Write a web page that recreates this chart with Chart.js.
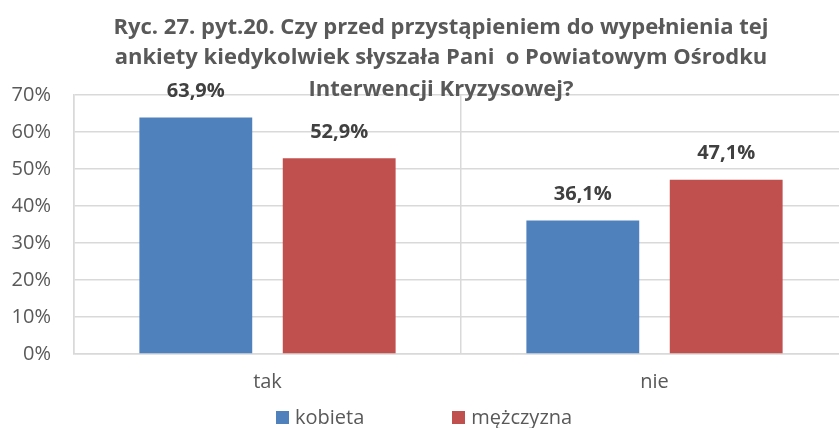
<!DOCTYPE html>
<html>
<head>
  <meta charset="utf-8">
  <title>Ryc. 27 - Powiatowy Ośrodek Interwencji Kryzysowej</title>
  <script src="https://cdn.jsdelivr.net/npm/chart.js"></script>
  <style>
    body {
      margin: 0;
      overflow: hidden;
      background: #fff;
      font-family: "Open Sans", sans-serif;
    }
    #wrap {
      position: relative;
      width: 839px;
      height: 428px;
      overflow: hidden;
    }
    #legend {
      position: absolute;
      left: 276px;
      top: 405px;
      display: flex;
      gap: 88px;
      font-size: 20px;
      line-height: 24px;
      color: #595959;
    }
    .item {
      display: flex;
      align-items: center;
    }
    .box {
      width: 13px;
      height: 13px;
      margin-right: 6px;
    }
  </style>
</head>
<body>
  <div id="wrap">
    <canvas id="chart" width="848" height="428"></canvas>
    <div id="legend"></div>
  </div>

  <script>
    const titleLines = [
      'Ryc. 27. pyt.20. Czy przed przystąpieniem do wypełnienia tej',
      'ankiety kiedykolwiek słyszała Pani  o Powiatowym Ośrodku',
      'Interwencji Kryzysowej?'
    ];
    const categories = ['tak', 'nie'];
    const seriesNames = ['kobieta', 'mężczyzna'];
    const kobieta = [63.9, 36.1];
    const mezczyzna = [52.9, 47.1];
    const colors = ['#4F81BD', '#C0504D'];
    const yMin = 0, yMax = 70, yStep = 10;

    const fmt = v => v.toFixed(1).replace('.', ',') + '%';

    // title drawn over the plot, like the Excel original
    const titlePlugin = {
      id: 'overTitle',
      afterDraw(chart) {
        const ctx = chart.ctx;
        const base = [33.5, 64, 95.5];
        ctx.save();
        ctx.font = 'bold 22px "Open Sans"';
        ctx.fillStyle = '#595959';
        ctx.textAlign = 'center';
        ctx.textBaseline = 'alphabetic';
        titleLines.forEach((t, i) => ctx.fillText(t, 441, base[i]));
        ctx.restore();
      }
    };

    const valueLabels = {
      id: 'valueLabels',
      afterDatasetsDraw(chart) {
        const ctx = chart.ctx;
        ctx.save();
        ctx.font = 'bold 20px "Open Sans"';
        ctx.fillStyle = '#404040';
        ctx.textAlign = 'center';
        ctx.textBaseline = 'middle';
        chart.data.datasets.forEach((ds, i) => {
          chart.getDatasetMeta(i).data.forEach((bar, j) => {
            ctx.fillText(fmt(ds.data[j]), bar.x, bar.y - 26);
          });
        });
        ctx.restore();
      }
    };

    const ctx = document.getElementById('chart').getContext('2d');
    const chart = new Chart(ctx, {
      type: 'bar',
      data: {
        labels: categories,
        datasets: [{
          label: seriesNames[0],
          data: kobieta,
          backgroundColor: colors[0]
        }, {
          label: seriesNames[1],
          data: mezczyzna,
          backgroundColor: colors[1]
        }]
      },
      options: {
        responsive: false,
        animation: false,
        categoryPercentage: 0.741,
        barPercentage: 0.787,
        layout: {
          padding: { top: 95, right: 0, bottom: 0, left: 0 }
        },
        plugins: {
          legend: { display: false },
          title: { display: false },
          tooltip: { enabled: false }
        },
        scales: {
          x: {
            grid: {
              color: c => c.index === categories.length ? 'rgba(0,0,0,0)' : '#d9d9d9',
              lineWidth: 1.5,
              drawTicks: false
            },
            border: { color: '#d9d9d9', width: 1.5 },
            ticks: {
              color: '#595959',
              font: { family: 'Open Sans', size: 20 },
              padding: 16
            },
            afterFit(scale) { scale.height = 74; }
          },
          y: {
            min: yMin,
            max: yMax,
            grid: { color: '#d9d9d9', lineWidth: 1.5, drawTicks: false },
            border: { color: '#d9d9d9', width: 1.5 },
            ticks: {
              stepSize: yStep,
              color: '#595959',
              font: { family: 'Open Sans', size: 20 },
              padding: 23,
              callback: v => v + '%'
            },
            afterFit(scale) { scale.width = 74; }
          }
        }
      },
      plugins: [valueLabels, titlePlugin]
    });

    // html legend built from the datasets
    const legend = document.getElementById('legend');
    chart.data.datasets.forEach(ds => {
      const item = document.createElement('div');
      item.className = 'item';
      item.innerHTML = `<span class="box" style="background:${ds.backgroundColor}"></span><span>${ds.label}</span>`;
      legend.appendChild(item);
    });
  </script>
</body>
</html>
